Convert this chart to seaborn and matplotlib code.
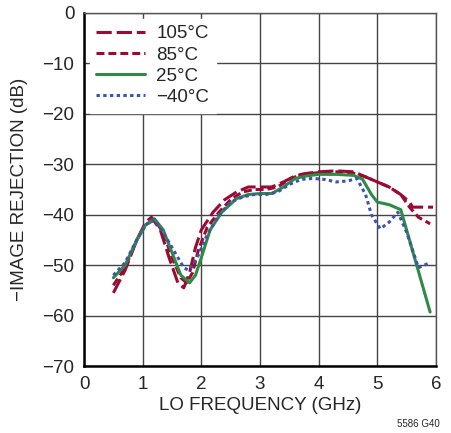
import matplotlib.pyplot as plt
import seaborn as sns
import pandas as pd

sns.set_style('white')
plt.rcParams['font.family'] = ['Liberation Sans', 'DejaVu Sans']

# 105C
f_105 = [0.5, 0.7, 0.9, 1.05, 1.15, 1.3, 1.45, 1.6, 1.7, 1.8, 1.9, 2.0, 2.2, 2.4, 2.6, 2.8, 3.0,
         3.2, 3.4, 3.6, 3.8, 4.0, 4.3, 4.6, 4.8, 5.0, 5.2, 5.4, 5.55, 5.6, 5.95]
ir_105 = [-55.5, -51, -45, -41.5, -40.5, -43, -48.5, -53.5, -54.5, -51.5, -46.5, -43, -39.5, -37,
          -35.5, -34.5, -34.5, -34.5, -33.5, -32.3, -31.8, -31.5, -31.3, -31.5, -32.5, -33.5,
          -34.5, -36, -37.5, -38.5, -38.5]
# 85C
f_85 = [0.5, 0.7, 0.9, 1.05, 1.2, 1.35, 1.5, 1.65, 1.75, 1.85, 1.95, 2.1, 2.3, 2.5, 2.7, 2.9, 3.1,
        3.3, 3.5, 3.7, 3.9, 4.1, 4.4, 4.6, 4.8, 5.0, 5.2, 5.4, 5.55, 5.7, 5.9]
ir_85 = [-54, -50.5, -45, -42, -41, -43.5, -48.5, -52.5, -53.5, -51.5, -47, -42.5, -39.5, -37,
         -35.5, -35, -35, -34.5, -33, -32, -31.8, -31.5, -31.5, -31.8, -32.5, -33.5, -34.5, -36,
         -38.5, -40.5, -41.8]
# 25C
f_25 = [0.5, 0.7, 0.9, 1.05, 1.2, 1.35, 1.5, 1.65, 1.8, 1.9, 2.0, 2.15, 2.35, 2.6, 2.8, 3.0, 3.2,
        3.4, 3.6, 3.8, 4.0, 4.3, 4.6, 4.75, 4.9, 5.0, 5.2, 5.4, 5.9]
ir_25 = [-52.5, -50, -45, -42, -40.8, -43, -47.5, -52, -53.5, -52, -48.5, -43, -39.5, -36.8, -36,
         -35.8, -35.8, -34.5, -32.8, -32.3, -32, -32, -32.2, -33, -36, -37.5, -38, -39, -59.3]
# -40C
f_m40 = [0.5, 0.7, 0.9, 1.05, 1.2, 1.35, 1.5, 1.6, 1.7, 1.78, 1.85, 1.95, 2.1, 2.3, 2.5, 2.7, 2.9,
         3.1, 3.3, 3.5, 3.7, 3.9, 4.1, 4.3, 4.5, 4.65, 4.8, 4.9, 5.05, 5.2, 5.35, 5.5, 5.7, 5.9]
ir_m40 = [-52, -49.5, -45, -42, -41, -43.5, -46.5, -48.5, -50.5, -51, -50, -48, -44, -40, -37.5,
          -36.5, -36, -36, -35.5, -34, -33, -32.8, -33, -33.5, -33.3, -32.8, -36, -40, -42.8,
          -41.5, -39.5, -43.5, -50.5, -49.5]

labels = ['105°C', '85°C', '25°C', '\u221240°C']

series = [
    (labels[0], f_105, ir_105, '#9a0a33', (5, 1.6)),
    (labels[1], f_85, ir_85, '#9a0a33', (2.6, 1.3)),
    (labels[2], f_25, ir_25, '#2f8a45', None),
    (labels[3], f_m40, ir_m40, '#3b55ad', (1.1, 1.1)),
]

fig = plt.figure(figsize=(4.51, 4.33), dpi=100)
ax = fig.add_axes([0.1863, 0.1547, 0.7804, 0.8153])

for name, f, ir, col, dash in series:
    d = pd.DataFrame({'freq': f, 'ir': ir})
    sns.lineplot(data=d, x='freq', y='ir', ax=ax, color=col, linewidth=2.2, label=name,
                 sort=False)
    ln = ax.get_lines()[-1]
    if dash is not None:
        ln.set_dashes(dash)

ax.set_xlim(0, 6)
ax.set_ylim(-70, 0)
ax.set_xticks(range(0, 7))
ax.set_yticks(range(-70, 1, 10))
ax.set_yticklabels([str(v).replace('-', '\u2212') for v in range(-70, 1, 10)])
ax.grid(True, color='#444444', linewidth=1.0)
ax.tick_params(length=0, labelsize=13.5, pad=7)
for s in ['top', 'right']:
    ax.spines[s].set_color('#555555')
    ax.spines[s].set_linewidth(1.0)
for s in ['left', 'bottom']:
    ax.spines[s].set_color('black')
    ax.spines[s].set_linewidth(1.8)

ax.set_xlabel('LO FREQUENCY (GHz)', fontsize=13.5, labelpad=3)
ax.set_ylabel('\u2212IMAGE REJECTION (dB)', fontsize=13.5, labelpad=10)

leg = ax.legend(loc='upper left', fontsize=13.5, frameon=True, fancybox=False,
                framealpha=1, edgecolor='white', handlelength=2.6, labelspacing=0.22,
                borderaxespad=0.3, handletextpad=0.6, borderpad=0.35)

fig.text(0.975, 0.01, '5586 G40', fontsize=7, ha='right', va='bottom')

fig.savefig('out.png', dpi=100)
